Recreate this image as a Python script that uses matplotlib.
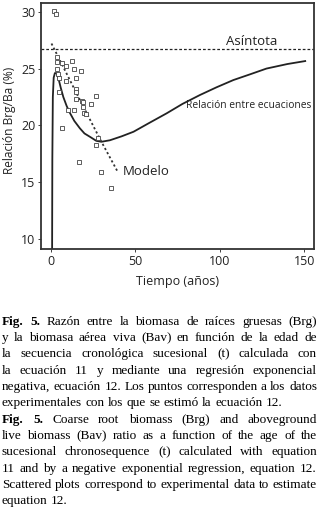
import matplotlib
matplotlib.use("Agg")
import matplotlib.pyplot as plt
from matplotlib.transforms import IdentityTransform

# ---------------- data ----------------
obs_t = [2.1, 3.1, 3.9, 3.9, 6.5, 9.1, 3.9, 4.3, 5.0, 12.8, 14.0, 17.8, 8.9, 15.0,
         14.8, 14.8, 4.9, 14.8, 18.3, 19.3, 26.8, 23.8, 18.9, 10.4, 14.0, 19.9,
         20.9, 6.9, 28.2, 26.8, 16.8, 29.8, 35.7]
obs_y = [30.06, 29.8, 26.04, 25.6, 25.5, 25.2, 25.0, 24.5, 24.2, 25.7, 24.96, 24.76,
         23.93, 24.2, 23.2, 22.9, 22.97, 22.3, 22.17, 22.1, 22.56, 21.9, 21.65, 21.4,
         21.4, 21.07, 20.98, 19.8, 18.9, 18.3, 16.8, 15.9, 14.5]

rel_t = [0.8, 1.0, 1.3, 1.8, 2.5, 3.5, 4.5, 6.0, 7.5, 9.5, 11.4, 14.0, 17.3, 20.0,
         23.3, 27.0, 30.0, 35.0, 42.0, 49.0, 58.0, 68.6, 78.0, 88.3, 98.0, 108.0,
         118.0, 127.6, 140.0, 150.5]
rel_y = [5.0, 17.0, 22.5, 24.2, 24.6, 24.6, 24.2, 23.3, 22.5, 21.7, 21.1, 20.4,
         19.75, 19.3, 19.0, 18.65, 18.57, 18.7, 19.05, 19.45, 20.2, 21.07, 21.9,
         22.68, 23.35, 23.99, 24.5, 25.0, 25.4, 25.66]

model_t = [0.5, 15.4, 29.2, 39.4]
model_y = [27.2, 22.8, 18.8, 16.0]

asymptote = 26.7

x_ticks = [0, 50, 100, 150]
y_ticks = [10, 15, 20, 25, 30]

caption_lines = [
    ("Fig. 5.", "Razón entre la biomasa de raíces gruesas (Brg)", True),
    ("", "y la biomasa aérea viva (Bav) en función de la edad de", True),
    ("", "la secuencia cronológica sucesional (t) calculada con", True),
    ("", "la ecuación 11 y mediante una regresión exponencial", True),
    ("", "negativa, ecuación 12. Los puntos corresponden a los datos", True),
    ("", "experimentales con los que se estimó la ecuación 12.", False),
    ("Fig. 5.", "Coarse root biomass (Brg) and aboveground", True),
    ("", "live biomass (Bav) ratio as a function of the age of the", True),
    ("", "sucesional chronosequence (t) calculated with equation", True),
    ("", "11 and by a negative exponential regression, equation 12.", True),
    ("", "Scattered plots correspond to experimental data to estimate", True),
    ("", "equation 12.", False),
]

# ---------------- figure ----------------
W, H = 320, 511
fig = plt.figure(figsize=(W / 100, H / 100), dpi=100)
fig.patch.set_facecolor("white")

ax_l, ax_r, ax_t, ax_b = 41, 314, 3, 249
ax = fig.add_axes([ax_l / W, (H - ax_b) / H, (ax_r - ax_l) / W, (ax_b - ax_t) / H])

sans = "Open Sans"
dark = "#222222"

ax.axhline(asymptote, color=dark, lw=0.9, ls=(0, (2.2, 1.6)))
ax.plot(rel_t, rel_y, color=dark, lw=1.3, solid_joinstyle="round")
ax.plot(model_t, model_y, color="#333333", lw=1.3, ls=(0, (1.2, 1.4)))
ax.plot(obs_t, obs_y, ls="none", marker="s", ms=2.2, mfc="white",
        mec="#444444", mew=0.6)

ax.set_xlim(-5.7, 155.7)
ax.set_ylim(9.15, 30.76)
ax.set_xticks(x_ticks)
ax.set_yticks(y_ticks)
ax.set_xticklabels([str(v) for v in x_ticks], fontfamily=sans, fontsize=9)
ax.set_yticklabels([str(v) for v in y_ticks], fontfamily=sans, fontsize=9)
ax.tick_params(direction="out", length=2.5, width=0.6, colors=dark, pad=1.5)
for s in ax.spines.values():
    s.set_linewidth(1.3)
    s.set_color("#333333")

ax.set_xlabel("Tiempo (años)", fontfamily=sans, fontsize=9, color=dark)
ax.xaxis.set_label_coords((178 - ax_l) / (ax_r - ax_l), -(281 - ax_b) / (ax_b - ax_t))
ax.xaxis.label.set_va("center")
ax.set_ylabel("Relación Brg/Ba (%)", fontfamily=sans, fontsize=8.6, color=dark)
ax.yaxis.set_label_coords(-(ax_l - 10) / (ax_r - ax_l), (ax_b - 120) / (ax_b - ax_t))
ax.yaxis.label.set_va("center")

ax.text(119, 27.35, "Asíntota", fontfamily=sans, fontsize=9.5, color=dark,
        ha="center", va="center")
ax.text(117, 21.72, "Relación entre ecuaciones", fontfamily=sans, fontsize=7.4,
        color=dark, ha="center", va="center")
ax.text(42.8, 15.95, "Modelo", fontfamily=sans, fontsize=9.5, color=dark,
        ha="left", va="center")

# ---------------- justified caption ----------------
renderer = fig.canvas.get_renderer()
serif = "Liberation Serif"
x0, x1 = 2.0, 317.0
first_center = 321.0
spacing = 16.3
ident = IdentityTransform()

# size the caption font so that line 5 fits the width with natural spaces
probe = fig.text(0, 0, caption_lines[4][1], fontfamily=serif, fontsize=10,
                 transform=ident)
probe_w = probe.get_window_extent(renderer).width
probe.remove()
cap_size = max(8.8, min(10.2, 10 * (x1 - x0) / probe_w))


def place_line(row, bold_part, body, justify):
    y_base = H - (first_center + row * spacing + 3.8)
    words = []
    if bold_part:
        words += [(w, "bold") for w in bold_part.split()]
    words += [(w, "normal") for w in body.split()]
    objs = []
    widths = []
    for w, wt in words:
        t = fig.text(0, y_base, w, fontfamily=serif, fontsize=cap_size,
                     fontweight=wt, color="black", ha="left", va="baseline",
                     transform=ident)
        objs.append(t)
        widths.append(t.get_window_extent(renderer).width)
    natural_space = 0.25 * cap_size * 100 / 72
    if justify and len(objs) > 1:
        gap = (x1 - x0 - sum(widths)) / (len(objs) - 1)
    else:
        gap = natural_space
    x = x0
    for t, w in zip(objs, widths):
        t.set_x(x)
        x += w + gap


for i, (b, body, just) in enumerate(caption_lines):
    place_line(i, b, body, just)

fig.savefig("out.png", dpi=100)
